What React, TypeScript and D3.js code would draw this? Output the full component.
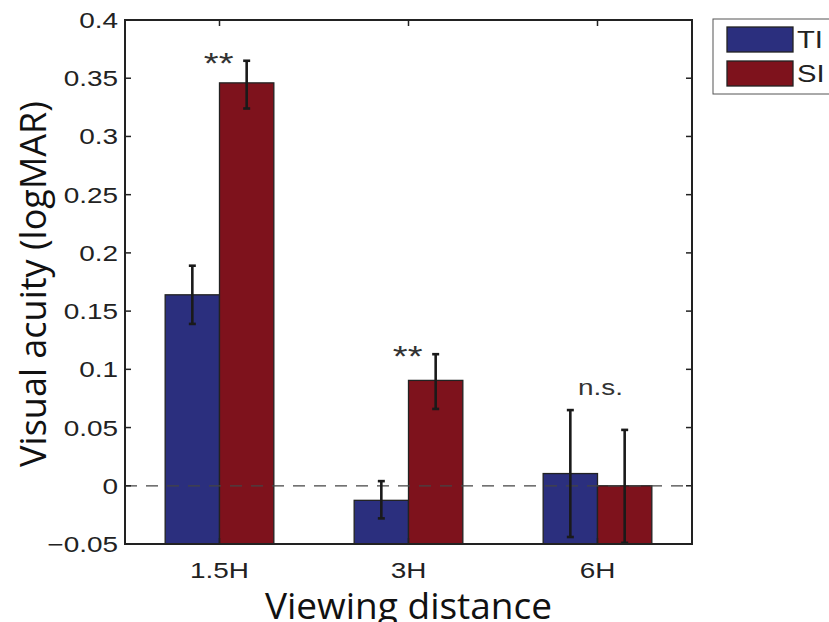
import React from "react";
import * as d3 from "d3";

const distances = ["1.5H", "3H", "6H"];
const seriesNames = ["TI", "SI"];
const tiValues = [0.164, -0.0125, 0.0105];
const siValues = [0.346, 0.0905, 0.0];
const tiErrLow = [0.139, -0.028, -0.044];
const tiErrHigh = [0.189, 0.004, 0.065];
const siErrLow = [0.324, 0.066, -0.049];
const siErrHigh = [0.365, 0.113, 0.048];
const significance = ["**", "**", "n.s."];
const yTicks = [-0.05, 0, 0.05, 0.1, 0.15, 0.2, 0.25, 0.3, 0.35, 0.4];

const W = 829;
const H = 622;
const margin = { left: 125, right: 137, top: 20, bottom: 78 };
const colors = ["#2b2f7e", "#7e121c"];
const STRETCH = 1.27;

export default function App() {
  const x0 = margin.left;
  const x1 = W - margin.right;
  const y0 = H - margin.bottom;
  const y1 = margin.top;

  const x = d3.scaleBand<string>().domain(distances).range([x0, x1]).padding(0);
  const groupFrac = 0.575;
  const inner = d3
    .scaleBand<string>()
    .domain(seriesNames)
    .range([0, x.bandwidth() * groupFrac])
    .padding(0);
  const y = d3.scaleLinear().domain([-0.05, 0.4]).range([y0, y1]);

  const values = [tiValues, siValues];
  const lows = [tiErrLow, siErrLow];
  const highs = [tiErrHigh, siErrHigh];
  const groupOffset = (x.bandwidth() - x.bandwidth() * groupFrac) / 2;
  const fmt = (v: number) => (v < 0 ? "\u2212" + d3.format("")(-v) : d3.format("")(v));
  const font = "'Liberation Sans', Arial, Helvetica, sans-serif";
  const titleFont = "'Open Sans', 'DejaVu Sans', sans-serif";
  const barCenter = (d: string, s: string) =>
    (x(d) as number) + groupOffset + (inner(s) as number) + inner.bandwidth() / 2;

  // horizontally widened text, as in the exported figure
  const wide = (tx: number, ty: number) => `translate(${tx},${ty}) scale(${STRETCH},1)`;

  return (
    <svg
      width={W}
      height={H}
      style={{ position: "absolute", left: 0, top: 0, background: "#fff" }}
      fontFamily={font}
    >
      {/* bars, drawn from the axis floor up to each value */}
      {distances.map((d, i) =>
        seriesNames.map((s, k) => {
          const v = values[k][i];
          const bx = (x(d) as number) + groupOffset + (inner(s) as number);
          return (
            <rect
              key={d + s}
              x={bx}
              y={y(v)}
              width={inner.bandwidth()}
              height={y0 - y(v)}
              fill={colors[k]}
              stroke="#222"
              strokeWidth={1.3}
            />
          );
        })
      )}
      {/* zero line */}
      <line
        x1={x0}
        x2={x1}
        y1={y(0)}
        y2={y(0)}
        stroke="#444"
        strokeWidth={1.2}
        strokeDasharray="12 9"
      />
      {/* error bars */}
      {distances.map((d, i) =>
        seriesNames.map((s, k) => {
          const cx = barCenter(d, s);
          const lo = y(lows[k][i]);
          const hi = y(highs[k][i]);
          return (
            <g key={"e" + d + s} stroke="#1a1a1a" strokeWidth={2.6}>
              <line x1={cx} x2={cx} y1={lo} y2={hi} />
              <line x1={cx - 3.5} x2={cx + 3.5} y1={lo} y2={lo} />
              <line x1={cx - 3.5} x2={cx + 3.5} y1={hi} y2={hi} />
            </g>
          );
        })
      )}
      {/* significance marks */}
      {distances.map((d, i) => {
        const top = Math.max(highs[0][i], highs[1][i]);
        const isStar = significance[i] === "**";
        const tx = isStar ? barCenter(d, "SI") - 28 : (x(d) as number) + x.bandwidth() / 2 + 3;
        const ty = isStar ? y(top) + 12 : y(top) - 15;
        return (
          <text
            key={"s" + d}
            transform={wide(tx, ty)}
            textAnchor="middle"
            fontSize={isStar ? 30 : 22}
            fill="#333"
          >
            {significance[i]}
          </text>
        );
      })}
      {/* frame */}
      <rect x={x0} y={y1} width={x1 - x0} height={y0 - y1} fill="none" stroke="#222" strokeWidth={2} />
      {/* y ticks */}
      {yTicks.map((t) => (
        <g key={"yt" + t}>
          <line x1={x0} x2={x0 + 6} y1={y(t)} y2={y(t)} stroke="#222" strokeWidth={1.5} />
          <line x1={x1} x2={x1 - 6} y1={y(t)} y2={y(t)} stroke="#222" strokeWidth={1.5} />
          <text
            transform={wide(x0 - 7, y(t) + 8)}
            textAnchor="end"
            fontSize={22}
            fill="#222"
          >
            {fmt(t)}
          </text>
        </g>
      ))}
      {/* x ticks */}
      {distances.map((d) => {
        const cx = (x(d) as number) + x.bandwidth() / 2;
        return (
          <g key={"xt" + d}>
            <line x1={cx} x2={cx} y1={y0} y2={y0 - 6} stroke="#222" strokeWidth={1.5} />
            <line x1={cx} x2={cx} y1={y1} y2={y1 + 6} stroke="#222" strokeWidth={1.5} />
            <text transform={wide(cx, y0 + 34)} textAnchor="middle" fontSize={22} fill="#222">
              {d}
            </text>
          </g>
        );
      })}
      {/* axis titles */}
      <text
        transform={`translate(${46},${(y0 + y1) / 2 + 2}) rotate(-90)`}
        textAnchor="middle"
        fontSize={36}
        fill="#111"
        fontFamily={titleFont}
      >
        Visual acuity (logMAR)
      </text>
      <text
        x={(x0 + x1) / 2}
        y={619}
        textAnchor="middle"
        fontSize={37}
        fill="#111"
        fontFamily={titleFont}
      >
        Viewing distance
      </text>
      {/* legend */}
      <g>
        <rect x={713} y={19} width={130} height={75} fill="#fff" stroke="#555" strokeWidth={1} />
        {seriesNames.map((s, k) => (
          <g key={"l" + s}>
            <rect
              x={727}
              y={27 + k * 34}
              width={66}
              height={25}
              fill={colors[k]}
              stroke="#222"
              strokeWidth={1.3}
            />
            <text transform={wide(797, 48 + k * 34)} fontSize={23} fill="#222">
              {s}
            </text>
          </g>
        ))}
      </g>
    </svg>
  );
}
